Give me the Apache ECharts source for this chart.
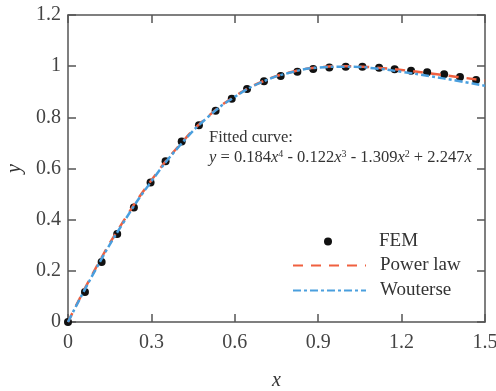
<!DOCTYPE html>
<html><head><meta charset="utf-8">
<script src="https://cdn.jsdelivr.net/npm/echarts@6/dist/echarts.min.js"></script>
<style>html,body{margin:0;padding:0;background:#fff}#c{width:496px;height:391px}</style>
</head><body><div id="c"></div>
<script>
const xTicks = [0, 0.3, 0.6, 0.9, 1.2, 1.5];
const yTicks = [0, 0.2, 0.4, 0.6, 0.8, 1, 1.2];
const femX = [0, 0.061, 0.121, 0.177, 0.237, 0.297, 0.351, 0.409, 0.471, 0.531, 0.589, 0.644, 0.705, 0.765, 0.825, 0.882, 0.94, 0.999, 1.059, 1.119, 1.175, 1.234, 1.292, 1.353, 1.41, 1.468];
const femY = [0, 0.117, 0.235, 0.344, 0.448, 0.545, 0.628, 0.706, 0.769, 0.826, 0.873, 0.911, 0.941, 0.962, 0.978, 0.989, 0.995, 0.998, 0.998, 0.994, 0.988, 0.982, 0.976, 0.968, 0.958, 0.946];
const lineX = [0, 0.1, 0.2, 0.3, 0.4, 0.5, 0.6, 0.7, 0.8, 0.9, 1.0, 1.1, 1.2, 1.3, 1.4, 1.5];
const powerY = [0, 0.211, 0.395, 0.554, 0.69, 0.80, 0.882, 0.94, 0.976, 0.995, 1.0, 0.995, 0.985, 0.972, 0.958, 0.944];
const woutY = [0, 0.206, 0.39, 0.55, 0.687, 0.798, 0.88, 0.939, 0.975, 0.994, 0.998, 0.992, 0.978, 0.961, 0.943, 0.923];
const seriesNames = ['FEM', 'Power law', 'Wouterse'];

const FONT = '"Liberation Serif", "Times New Roman", serif';
const AX = '#555';
const chart = echarts.init(document.getElementById('c'));
const zip = (xs, ys) => xs.map((x, i) => [x, ys[i]]);
const fmt = v => String(+v.toFixed(1));
const baseX = {type: 'value', min: xTicks[0], max: xTicks[xTicks.length-1], interval: 0.3,
  splitLine: {show: false}, axisLine: {show: true, onZero: false, lineStyle: {color: AX, width: 1.5}},
  axisTick: {show: true, inside: true, length: 8, lineStyle: {color: AX, width: 1.5}}};
const baseY = {type: 'value', min: yTicks[0], max: yTicks[yTicks.length-1], interval: 0.2,
  splitLine: {show: false}, axisLine: {show: true, onZero: false, lineStyle: {color: AX, width: 1.5}},
  axisTick: {show: true, inside: true, length: 8, lineStyle: {color: AX, width: 1.5}}};
const legendBase = {orient: 'vertical', left: 287, itemWidth: 73, itemHeight: 8, itemGap: 14,
  textStyle: {fontFamily: FONT, fontSize: 19, color: '#333', padding: [0, 0, 0, 9]}, selectedMode: false};
const hideSym = {color: 'transparent', borderColor: 'transparent', borderWidth: 0};
const dotIcon = 'path://M0,4M73,4M32,4A4,4,0,1,1,40,4A4,4,0,1,1,32,4Z';
chart.setOption({
  animation: false,
  grid: {left: 68, right: 11, top: 15, bottom: 69, containLabel: false, outerBoundsMode: 'none'},
  xAxis: [
    Object.assign({}, baseX, {position: 'bottom', name: 'x', nameLocation: 'middle', nameGap: 49,
      nameTextStyle: {fontFamily: FONT, fontStyle: 'italic', fontSize: 20, color: '#333'},
      axisLabel: {fontFamily: FONT, fontSize: 20, color: '#444', margin: 11, formatter: fmt}}),
    Object.assign({}, baseX, {position: 'top', axisLabel: {show: false}})
  ],
  yAxis: [
    Object.assign({}, baseY, {position: 'left', name: 'y', nameLocation: 'middle', nameGap: 43, nameRotate: 90,
      nameTextStyle: {fontFamily: FONT, fontStyle: 'italic', fontSize: 20, color: '#333'},
      axisLabel: {fontFamily: FONT, fontSize: 20, color: '#444', margin: 7, formatter: fmt}}),
    Object.assign({}, baseY, {position: 'right', axisLabel: {show: false}})
  ],
  legend: [
    Object.assign({}, legendBase, {data: [{name: seriesNames[0], icon: dotIcon}], top: 227}),
    Object.assign({}, legendBase, {data: [seriesNames[1]], top: 251, itemStyle: hideSym}),
    Object.assign({}, legendBase, {data: [seriesNames[2]], top: 276, itemStyle: hideSym})
  ],
  series: [
    {name: seriesNames[0], type: 'scatter', data: zip(femX, femY), symbol: 'circle', symbolSize: 8,
      itemStyle: {color: '#111', opacity: 1}, z: 2},
    {name: seriesNames[1], type: 'line', data: zip(lineX, powerY), smooth: true, showSymbol: false, symbol: 'none',
      lineStyle: {color: '#f0603f', width: 2.5, type: [10, 8]}, itemStyle: {color: '#f0603f'}, z: 3},
    {name: seriesNames[2], type: 'line', data: zip(lineX, woutY), smooth: true, showSymbol: false, symbol: 'none',
      lineStyle: {color: '#4a9fde', width: 2.5, type: [8, 3, 3, 3]}, itemStyle: {color: '#4a9fde'}, z: 4}
  ],
  graphic: [
    {type: 'text', left: 209, top: 129, style: {text: 'Fitted curve:', font: '16.5px ' + FONT, fill: '#333'}},
    {type: 'text', left: 209, top: 149, style: {
      text: '{i|y} = 0.184{i|x}{s|4} - 0.122{i|x}{s|3} - 1.309{i|x}{s|2} + 2.247{i|x}',
      font: '16.5px ' + FONT, fill: '#333',
      rich: {i: {fontFamily: FONT, fontStyle: 'italic', fontSize: 16.5, fill: '#333'},
             s: {fontFamily: FONT, fontSize: 10, verticalAlign: 'top', padding: [0, 0, 7, 0], fill: '#333'}}}}
  ]
});
</script></body></html>
